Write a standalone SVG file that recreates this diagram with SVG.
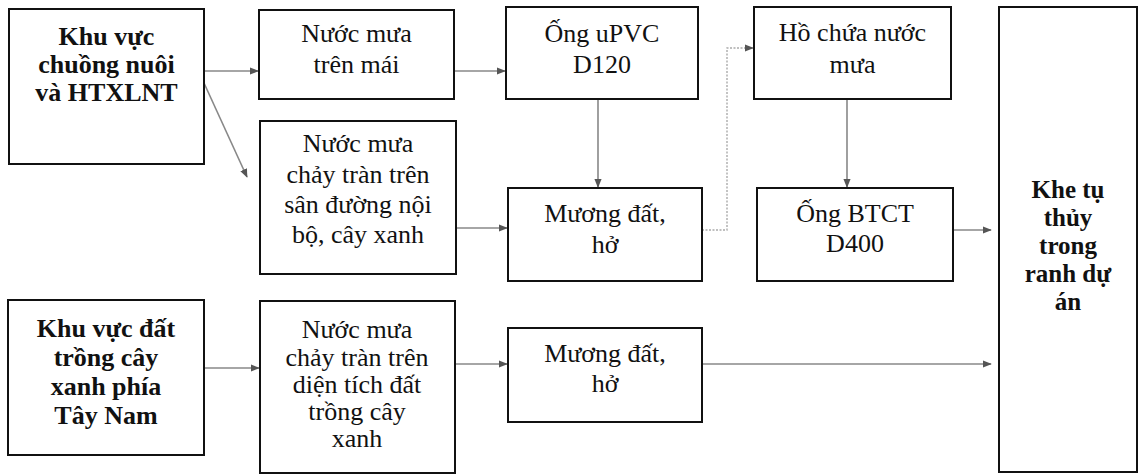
<svg xmlns="http://www.w3.org/2000/svg" width="1141" height="476" viewBox="0 0 1141 476">
<defs>
<style>
.box{fill:#fff;stroke:#111;stroke-width:2}
.t{font-family:"Liberation Serif","Times New Roman",serif;font-size:26px;fill:#111;text-anchor:middle}
.b{font-family:"Liberation Serif","Times New Roman",serif;font-size:26px;font-weight:bold;fill:#111;text-anchor:middle}
.k{font-size:25px}
.c{fill:none;stroke:#888;stroke-width:1.6}
.d{fill:none;stroke:#aaa;stroke-width:1.4;stroke-dasharray:2 1.5}
</style>
<marker id="ah" viewBox="0 0 10 10" refX="9" refY="5" markerWidth="9" markerHeight="9" markerUnits="userSpaceOnUse" orient="auto">
<path d="M0,1 L10,5 L0,9 z" fill="#555"/>
</marker>
</defs>
<rect width="1141" height="476" fill="#fff"/>
<g id="connectors">
<path class="c" d="M204,71 H258" marker-end="url(#ah)"/>
<path class="c" d="M204,83 L247,177" marker-end="url(#ah)"/>
<path class="c" d="M454,71 H505" marker-end="url(#ah)"/>
<path class="c" d="M456,228 H507" marker-end="url(#ah)"/>
<path class="c" d="M598,99 V187" marker-end="url(#ah)"/>
<path class="d" d="M702,230 H727 V48 H753" marker-end="url(#ah)"/>
<path class="c" d="M847,99 V187" marker-end="url(#ah)"/>
<path class="c" d="M953,230 H991" marker-end="url(#ah)"/>
<path class="c" d="M204,368 H259" marker-end="url(#ah)"/>
<path class="c" d="M455,364 H507" marker-end="url(#ah)"/>
<path class="c" d="M702,364 H991" marker-end="url(#ah)"/>
</g>
<g id="n1"><rect class="box" x="9" y="9" width="195" height="155"/>
<text class="b" x="106.5" y="45">Khu vực</text><text class="b" x="106.5" y="73">chuồng nuôi</text><text class="b" x="106.5" y="101">và HTXLNT</text></g>
<g id="n2"><rect class="box" x="259" y="10" width="195" height="89"/>
<text class="t" x="356.5" y="42">Nước mưa</text><text class="t" x="356.5" y="73">trên mái</text></g>
<g id="n3"><rect class="box" x="260" y="121" width="196" height="153"/>
<text class="t" x="358" y="152">Nước mưa</text><text class="t" x="358" y="183">chảy tràn trên</text><text class="t" x="358" y="213">sân đường nội</text><text class="t" x="358" y="243">bộ, cây xanh</text></g>
<g id="n4"><rect class="box" x="506" y="7" width="192" height="92"/>
<text class="t" x="602" y="42">Ống uPVC</text><text class="t" x="602" y="73">D120</text></g>
<g id="n5"><rect class="box" x="508" y="188" width="194" height="93"/>
<text class="t" x="605" y="222">Mương đất,</text><text class="t" x="605" y="253">hở</text></g>
<g id="n6"><rect class="box" x="754" y="7" width="197" height="92"/>
<text class="t" x="852.5" y="41">Hồ chứa nước</text><text class="t" x="852.5" y="73">mưa</text></g>
<g id="n7"><rect class="box" x="757" y="188" width="196" height="93"/>
<text class="t" x="855" y="222">Ống BTCT</text><text class="t" x="855" y="252">D400</text></g>
<g id="n8"><rect class="box" x="999" y="7" width="138" height="465"/>
<text class="b k" x="1068" y="198">Khe tụ</text><text class="b k" x="1068" y="226">thủy</text><text class="b k" x="1068" y="254">trong</text><text class="b k" x="1068" y="282">ranh dự</text><text class="b k" x="1068" y="310">án</text></g>
<g id="n9"><rect class="box" x="8" y="300" width="196" height="155"/>
<text class="b" x="106" y="337">Khu vực đất</text><text class="b" x="106" y="366">trồng cây</text><text class="b" x="106" y="395">xanh phía</text><text class="b" x="106" y="424">Tây Nam</text></g>
<g id="n10"><rect class="box" x="260" y="301" width="195" height="172"/>
<text class="t" x="357" y="338">Nước mưa</text><text class="t" x="357" y="366">chảy tràn trên</text><text class="t" x="357" y="393">diện tích đất</text><text class="t" x="357" y="420">trồng cây</text><text class="t" x="357" y="447">xanh</text></g>
<g id="n11"><rect class="box" x="508" y="328" width="194" height="94"/>
<text class="t" x="605" y="362">Mương đất,</text><text class="t" x="605" y="392">hở</text></g>
</svg>
